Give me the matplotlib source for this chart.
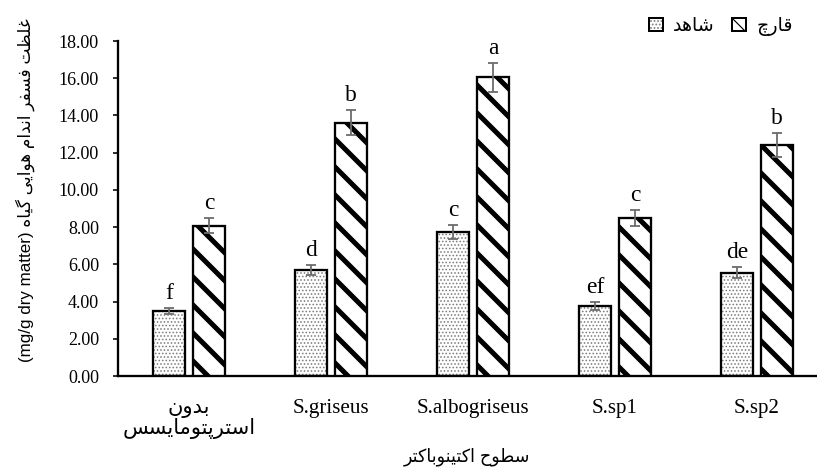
import matplotlib
matplotlib.use("Agg")
import matplotlib.pyplot as plt
from matplotlib.patches import Patch
from matplotlib.legend_handler import HandlerTuple
import numpy as np

DPI = 84


def pt(px):
    """Convert a size in pixels to points at the figure dpi."""
    return px * 72.0 / DPI


# ---- data -------------------------------------------------------------
categories = ["بدون\nاسترپتومایسس", "S.griseus", "S.albogriseus", "S.sp1", "S.sp2"]
series_names = ["شاهد", "قارچ"]
control = [3.51, 5.71, 7.74, 3.76, 5.55]
control_err = [0.16, 0.28, 0.39, 0.21, 0.29]
fungus = [8.08, 13.61, 16.05, 8.47, 12.40]
fungus_err = [0.40, 0.66, 0.78, 0.43, 0.65]
control_letters = ["f", "d", "c", "ef", "de"]
fungus_letters = ["c", "b", "a", "c", "b"]
y_ticks = [0, 2, 4, 6, 8, 10, 12, 14, 16, 18]
x_title = "سطوح اکتینوباکتر"
y_title_fa = "غلظت فسفر اندام هوایی گیاه"
y_title_en = "(mg/g dry matter)"

# ---- minimal Persian shaping (presentation forms + visual order) -------
FORMS = {
    "ا": ("\uFE8D", "\uFE8E", None, None),
    "ب": ("\uFE8F", "\uFE90", "\uFE91", "\uFE92"),
    "پ": ("\uFB56", "\uFB57", "\uFB58", "\uFB59"),
    "ت": ("\uFE95", "\uFE96", "\uFE97", "\uFE98"),
    "ج": ("\uFE9D", "\uFE9E", "\uFE9F", "\uFEA0"),
    "چ": ("\uFB7A", "\uFB7B", "\uFB7C", "\uFB7D"),
    "ح": ("\uFEA1", "\uFEA2", "\uFEA3", "\uFEA4"),
    "د": ("\uFEA9", "\uFEAA", None, None),
    "ر": ("\uFEAD", "\uFEAE", None, None),
    "س": ("\uFEB1", "\uFEB2", "\uFEB3", "\uFEB4"),
    "ش": ("\uFEB5", "\uFEB6", "\uFEB7", "\uFEB8"),
    "ط": ("\uFEC1", "\uFEC2", "\uFEC3", "\uFEC4"),
    "ظ": ("\uFEC5", "\uFEC6", "\uFEC7", "\uFEC8"),
    "غ": ("\uFECD", "\uFECE", "\uFECF", "\uFED0"),
    "ف": ("\uFED1", "\uFED2", "\uFED3", "\uFED4"),
    "ق": ("\uFED5", "\uFED6", "\uFED7", "\uFED8"),
    "ک": ("\uFB8E", "\uFB8F", "\uFB90", "\uFB91"),
    "ك": ("\uFED9", "\uFEDA", "\uFEDB", "\uFEDC"),
    "گ": ("\uFB92", "\uFB93", "\uFB94", "\uFB95"),
    "ل": ("\uFEDD", "\uFEDE", "\uFEDF", "\uFEE0"),
    "م": ("\uFEE1", "\uFEE2", "\uFEE3", "\uFEE4"),
    "ن": ("\uFEE5", "\uFEE6", "\uFEE7", "\uFEE8"),
    "ه": ("\uFEE9", "\uFEEA", "\uFEEB", "\uFEEC"),
    "و": ("\uFEED", "\uFEEE", None, None),
    "ی": ("\uFBFC", "\uFBFD", "\uFBFE", "\uFBFF"),
    "ي": ("\uFEF1", "\uFEF2", "\uFEF3", "\uFEF4"),
}


def shape_line(s):
    if not any(ch in FORMS for ch in s):
        return s
    out = []
    for i, ch in enumerate(s):
        f = FORMS.get(ch)
        if f is None:
            out.append(ch)
            continue
        prev = s[i - 1] if i > 0 else ""
        nxt = s[i + 1] if i + 1 < len(s) else ""
        join_prev = prev in FORMS and FORMS[prev][2] is not None
        join_next = f[2] is not None and nxt in FORMS
        if join_prev and join_next:
            out.append(f[3])
        elif join_prev:
            out.append(f[1])
        elif join_next:
            out.append(f[2])
        else:
            out.append(f[0])
    return "".join(reversed(out))


def shape(s):
    return "\n".join(shape_line(line) for line in s.split("\n"))


SERIF = ["Liberation Serif", "DejaVu Sans"]
SANS = ["Liberation Sans Narrow", "Liberation Sans", "DejaVu Sans"]

# ---- figure -------------------------------------------------------------
W, H = 818, 474
fig = plt.figure(figsize=(W / DPI, H / DPI), dpi=DPI)
ax = fig.add_axes([118 / W, 98 / H, 710 / W, 335 / H])

x = np.arange(len(categories))
bw = 0.226
off = 0.141
edge_lw = pt(2.3)
stripe_lw = pt(5.0)
dot_color = "#7c7c7c"

# control bars: grey dot fill with a black outline on top
b_dots = ax.bar(x - off, control, bw, color="white", edgecolor=dot_color,
                hatch="....", linewidth=0, zorder=2)
for p in b_dots:
    if hasattr(p, "set_hatch_linewidth"):
        p.set_hatch_linewidth(pt(1.0))
ax.bar(x - off, control, bw, fill=False, edgecolor="black",
       linewidth=edge_lw, zorder=3)

# fungus bars: heavy diagonal stripes
with plt.rc_context({"hatch.linewidth": stripe_lw}):
    b_str = ax.bar(x + off, fungus, bw, color="white", edgecolor="black",
                   hatch="\\", linewidth=edge_lw, zorder=3)
for p in b_str:
    if hasattr(p, "set_hatch_linewidth"):
        p.set_hatch_linewidth(stripe_lw)

err_kw = dict(fmt="none", ecolor="#6c6c6c", elinewidth=pt(1.8),
              capsize=pt(5), capthick=pt(1.8), zorder=4)
ax.errorbar(x - off, control, yerr=control_err, **err_kw)
ax.errorbar(x + off, fungus, yerr=fungus_err, **err_kw)

for xs, vals, errs, letters in ((x - off, control, control_err, control_letters),
                                (x + off, fungus, fungus_err, fungus_letters)):
    for xi, v, e, t in zip(xs, vals, errs, letters):
        ax.annotate(t, (xi, v + e), xytext=(0, pt(9)), textcoords="offset points",
                    ha="center", va="baseline", fontsize=pt(23.5), family=SERIF)

ax.set_xlim(-0.5, len(categories) - 0.5)
ax.set_ylim(0, 18)
ax.set_yticks(y_ticks)
ax.set_yticklabels([f"{v:.2f}" for v in y_ticks], family=SERIF, fontsize=pt(18))
ax.set_xticks(x)
ax.set_xticklabels([shape(c) for c in categories], family=SERIF, fontsize=pt(21),
                   linespacing=1.0)

ax.tick_params(axis="y", direction="out", length=pt(5), width=pt(1.6), pad=pt(14))
ax.tick_params(axis="x", length=0, pad=pt(23))
for s in ("top", "right"):
    ax.spines[s].set_visible(False)
for s in ("left", "bottom"):
    ax.spines[s].set_linewidth(edge_lw)
    ax.spines[s].set_color("black")

ax.set_xlabel(shape(x_title), family=SANS, fontsize=pt(17.5), va="center")
ax.xaxis.set_label_coords((467 - 118) / 710, (376 - 457) / 335)
ax.set_ylabel(y_title_en + " " + shape(y_title_fa), family=SANS,
              fontsize=pt(17), va="center")
ax.yaxis.set_label_coords((25 - 118) / 710, (376 - 190) / 335)

# legend
h_ctrl = (Patch(facecolor="white", edgecolor=dot_color, hatch="....", linewidth=0),
          Patch(fill=False, edgecolor="black", linewidth=pt(2)))
with plt.rc_context({"hatch.linewidth": pt(3.5)}):
    h_fung = Patch(facecolor="white", edgecolor="black", hatch="\\\\",
                   linewidth=pt(2))
if hasattr(h_fung, "set_hatch_linewidth"):
    h_fung.set_hatch_linewidth(pt(3.5))
fig.legend([h_ctrl, h_fung], [shape(n) for n in series_names],
           handler_map={tuple: HandlerTuple(ndivide=1)},
           loc="upper right", bbox_to_anchor=(806 / W, 1 - 4 / H), ncol=2,
           frameon=False, prop={"family": SANS, "size": pt(19)},
           handlelength=0.72, handleheight=0.72, handletextpad=0.55,
           columnspacing=0.9, borderpad=0.2)

fig.savefig("out.png", dpi=DPI)
